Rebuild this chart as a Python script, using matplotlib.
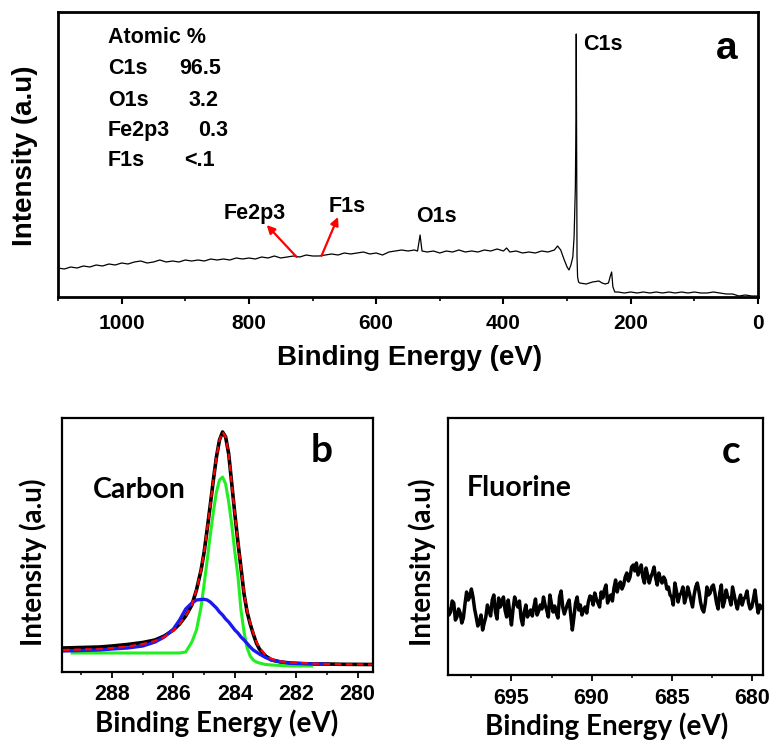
import matplotlib
matplotlib.use("Agg")
import matplotlib.pyplot as plt
from matplotlib.ticker import MultipleLocator

# ---- panel a: survey spectrum (binding energy in eV, intensity in a.u.)
survey_ev = [1100, 1090, 1080, 1070, 1060, 1050, 1040, 1030, 1020, 1010,
             1000, 990, 980, 970, 960, 950, 940, 930, 920, 910,
             900, 890, 880, 870, 860, 850, 840, 830, 820, 810,
             800, 790, 780, 770, 760, 750, 740, 730, 720, 710,
             700, 690, 680, 670, 660, 650, 640, 630, 620, 610,
             600, 590, 580, 570, 560, 550, 540, 535, 531, 528,
             520, 510, 500, 490, 480, 470, 460, 450, 440, 430,
             420, 410, 400, 395, 390, 380, 370, 360, 350, 340,
             330, 320, 315, 310, 305, 300, 297, 294, 291, 289,
             287, 286, 285.6, 285, 284.4, 283.5, 282, 280, 270, 260,
             250, 245, 240, 235, 232, 230, 228, 225, 220, 210,
             200, 190, 180, 170, 160, 150, 140, 130, 120, 110,
             100, 90, 80, 70, 60, 50, 40, 30, 20, 10, 0]
survey_int = [29, 28, 30, 29, 31, 30, 32, 31, 33, 32,
              34, 33, 35, 36, 34, 35, 37, 35, 36, 35,
              37, 36, 37, 36, 38, 37, 38, 37, 39, 38,
              39, 38, 40, 39, 41, 39, 40, 41, 40, 42,
              41, 41, 42, 43, 42, 44, 43, 44, 45, 43,
              44, 42, 45, 46, 47, 46, 47, 46, 62, 46,
              45, 46, 44, 46, 45, 47, 45, 46, 45, 47,
              46, 48, 46, 49, 45, 46, 44, 45, 44, 46,
              45, 47, 51, 47, 38, 30, 27, 32, 40, 60,
              110, 180, 263, 150, 40, 20, 15, 14, 13, 15,
              16, 14, 13, 14, 21, 25, 10, 5, 5, 4,
              5, 4, 5, 4, 5, 4, 5, 4, 5, 4,
              5, 4, 4, 5, 4, 3, 3, 1, 2, 1, 1]

atomic_names = ["C1s", "O1s", "Fe2p3", "F1s"]
atomic_values = ["96.5", "3.2", "0.3", "<.1"]

# ---- panel b: C1s high-resolution spectrum and its fit
c_ev = [289.6, 289.0, 288.4, 288.0, 287.5, 287.0, 286.6, 286.3, 286.0, 285.8,
        285.6, 285.4, 285.25, 285.1, 285.0, 284.9, 284.8, 284.7, 284.6, 284.5,
        284.4, 284.3, 284.2, 284.1, 284.0, 283.9, 283.8, 283.7, 283.6, 283.5,
        283.4, 283.3, 283.2, 283.0, 282.8, 282.5, 282.2, 281.5, 281.0, 280.5, 279.5]
c_data = [24, 24.5, 25, 26, 27.5, 29.5, 32, 36, 42, 48,
          56, 67, 82, 102, 120, 143, 167, 192, 215, 232,
          240, 235, 218, 188, 158, 130, 104, 78, 60, 48,
          38, 29, 23, 16, 12, 10, 9, 8, 8, 7.7, 7.5]
c_fit = [22, 22.5, 23, 24, 25.5, 28, 31, 35, 41.5, 48,
         56, 67, 82, 102, 120, 143, 167, 192, 215, 232,
         240, 235, 218, 188, 158, 130, 104, 79, 61, 49,
         39, 30, 24, 17, 13, 10.5, 9.5, 8.5, 8, 7.7, 7.5]
c_peak1_ev = [289.3, 288.4, 288.0, 287.5, 287.0, 286.6, 286.3, 286.0, 285.8,
              285.6, 285.4, 285.25, 285.1, 285.0, 284.9, 284.8, 284.7, 284.6, 284.5,
              284.4, 284.3, 284.2, 284.1, 284.0, 283.9, 283.8, 283.7, 283.6, 283.5,
              283.4, 283.3, 283.2, 283.0, 282.8, 282.5, 282.2, 281.5]
c_peak1 = [19, 19, 19, 19, 19, 19, 19, 19, 19,
           20, 30, 42, 65, 88, 112, 137, 160, 180, 192,
           195, 188, 170, 147, 120, 96, 62, 40, 24, 16,
           12, 10, 9, 7.5, 7, 6.5, 6, 6]
c_peak2_ev = [289.6, 289.0, 288.4, 288.0, 287.5, 287.0, 286.6, 286.3, 286.0, 285.8,
              285.6, 285.4, 285.25, 285.1, 285.0, 284.9, 284.8, 284.7, 284.6, 284.5,
              284.4, 284.3, 284.2, 284.1, 284.0, 283.9, 283.8, 283.7, 283.6, 283.5,
              283.4, 283.3, 283.2, 283.0, 282.8, 282.5, 282.2, 281.5, 281.0]
c_peak2 = [21, 21.5, 22, 23, 24, 26, 30, 35, 43, 52,
           63, 69, 72, 72.5, 72.7, 72, 70, 67, 64, 60,
           57, 53, 50, 46, 42, 39, 35, 32, 28.5, 25,
           22, 20, 18, 14.5, 12, 10, 8.7, 8, 7.7]

# ---- panel c: F1s high-resolution spectrum (0.1 eV steps)
f_ev = [699.0, 698.9, 698.8, 698.7, 698.6, 698.5, 698.4, 698.3, 698.2, 698.1,
        698.0, 697.9, 697.8, 697.7, 697.6, 697.5, 697.4, 697.3, 697.2, 697.1,
        697.0, 696.9, 696.8, 696.7, 696.6, 696.5, 696.4, 696.3, 696.2, 696.1,
        696.0, 695.9, 695.8, 695.7, 695.6, 695.5, 695.4, 695.3, 695.2, 695.1,
        695.0, 694.9, 694.8, 694.7, 694.6, 694.5, 694.4, 694.3, 694.2, 694.1,
        694.0, 693.9, 693.8, 693.7, 693.6, 693.5, 693.4, 693.3, 693.2, 693.1,
        693.0, 692.9, 692.8, 692.7, 692.6, 692.5, 692.4, 692.3, 692.2, 692.1,
        692.0, 691.9, 691.8, 691.7, 691.6, 691.5, 691.4, 691.3, 691.2, 691.1,
        691.0, 690.9, 690.8, 690.7, 690.6, 690.5, 690.4, 690.3, 690.2, 690.1,
        690.0, 689.9, 689.8, 689.7, 689.6, 689.5, 689.4, 689.3, 689.2, 689.1,
        689.0, 688.9, 688.8, 688.7, 688.6, 688.5, 688.4, 688.3, 688.2, 688.1,
        688.0, 687.9, 687.8, 687.7, 687.6, 687.5, 687.4, 687.3, 687.2, 687.1,
        687.0, 686.9, 686.8, 686.7, 686.6, 686.5, 686.4, 686.3, 686.2, 686.1,
        686.0, 685.9, 685.8, 685.7, 685.6, 685.5, 685.4, 685.3, 685.2, 685.1,
        685.0, 684.9, 684.8, 684.7, 684.6, 684.5, 684.4, 684.3, 684.2, 684.1,
        684.0, 683.9, 683.8, 683.7, 683.6, 683.5, 683.4, 683.3, 683.2, 683.1,
        683.0, 682.9, 682.8, 682.7, 682.6, 682.5, 682.4, 682.3, 682.2, 682.1,
        682.0, 681.9, 681.8, 681.7, 681.6, 681.5, 681.4, 681.3, 681.2, 681.1,
        681.0, 680.9, 680.8, 680.7, 680.6, 680.5, 680.4, 680.3, 680.2, 680.1,
        680.0, 679.9, 679.8, 679.7, 679.6, 679.5, 679.4]
f_int = [68, 60, 63, 74, 72, 55, 58, 66, 62, 52,
         57, 71, 83, 75, 78, 86, 78, 66, 58, 49,
         53, 60, 45, 52, 58, 70, 64, 59, 75, 80,
         63, 56, 77, 68, 72, 78, 65, 58, 75, 62,
         50, 66, 78, 72, 68, 74, 57, 50, 63, 70,
         58, 62, 65, 59, 68, 76, 60, 64, 70, 66,
         78, 70, 65, 58, 80, 71, 63, 69, 62, 57,
         78, 84, 68, 61, 66, 71, 75, 60, 45, 58,
         72, 78, 65, 70, 60, 65, 68, 62, 73, 79,
         78, 70, 82, 76, 72, 68, 83, 77, 85, 90,
         72, 78, 80, 74, 87, 95, 83, 90, 93, 86,
         90, 98, 102, 94, 98, 108, 110, 104, 112, 100,
         105, 110, 98, 92, 107, 100, 92, 98, 102, 108,
         97, 90, 102, 96, 92, 98, 95, 86, 88, 80,
         78, 70, 92, 84, 73, 80, 82, 88, 72, 78,
         88, 82, 75, 68, 80, 88, 92, 84, 73, 66,
         63, 72, 88, 80, 82, 88, 90, 82, 72, 66,
         82, 90, 68, 74, 85, 78, 77, 70, 88, 80,
         72, 66, 75, 80, 70, 76, 78, 84, 72, 66,
         68, 76, 85, 72, 62, 70, 67]

BOLD = "bold"
ARIAL = ["Liberation Sans", "DejaVu Sans"]
CAL = ["Lato", "DejaVu Sans"]

fig = plt.figure(figsize=(7.7, 7.44), dpi=100)

# ------------------------------------------------------------------ panel a
ax_a = fig.add_axes([58 / 770, 1 - 297 / 744, 700 / 770, 285 / 744])
ax_a.plot(survey_ev, survey_int, color="black", lw=0.9)
ax_a.set_xlim(1100, 0)
ax_a.set_ylim(0, 285)
ax_a.set_yticks([])
ax_a.xaxis.set_major_locator(MultipleLocator(200))
ax_a.xaxis.set_minor_locator(MultipleLocator(100))
ax_a.tick_params(axis="x", which="major", direction="out", length=5, width=1.5, pad=7)
ax_a.tick_params(axis="x", which="minor", direction="out", length=3, width=1.2)
for lab in ax_a.get_xticklabels():
    lab.set_fontfamily(ARIAL)
    lab.set_fontweight(BOLD)
    lab.set_fontsize(15)
for s in ax_a.spines.values():
    s.set_linewidth(2)

ax_a.text(0.0714, 0.91, "Atomic %", transform=ax_a.transAxes, va="center",
          family=ARIAL, weight=BOLD, fontsize=15.5)
rows_y = [0.80, 0.69, 0.585, 0.48]
vals_x = [0.173, 0.186, 0.200, 0.180]
for name, val, yy, xx in zip(atomic_names, atomic_values, rows_y, vals_x):
    ax_a.text(0.0714, yy, name, transform=ax_a.transAxes, va="center",
              family=ARIAL, weight=BOLD, fontsize=15.5)
    ax_a.text(xx, yy, val, transform=ax_a.transAxes, va="center",
              family=ARIAL, weight=BOLD, fontsize=15.5)

ax_a.text(275, 252, "C1s", va="center", ha="left", family=ARIAL, weight=BOLD, fontsize=15.5)
ax_a.text(791, 84, "Fe2p3", va="center", ha="center", family=ARIAL, weight=BOLD, fontsize=15.5)
ax_a.text(645, 90, "F1s", va="center", ha="center", family=ARIAL, weight=BOLD, fontsize=15.5)
ax_a.text(506, 80, "O1s", va="center", ha="center", family=ARIAL, weight=BOLD, fontsize=15.5)
ax_a.text(0.955, 0.87, "a", transform=ax_a.transAxes, va="center", ha="center",
          family=ARIAL, weight=BOLD, fontsize=28)

arrow = dict(arrowstyle="-|>", color="red", lw=1.6, mutation_scale=12, shrinkA=0, shrinkB=0)
ax_a.annotate("", xy=(772, 72), xytext=(725, 40), arrowprops=arrow)
ax_a.annotate("", xy=(660, 80), xytext=(686, 41), arrowprops=arrow)

fig.text(25 / 770, 1 - 156 / 744, "Intensity (a.u)", rotation=90, ha="center", va="center",
         family=ARIAL, weight=BOLD, fontsize=20)
fig.text(410 / 770, 1 - 358 / 744, "Binding Energy (eV)", ha="center", va="center",
         family=ARIAL, weight=BOLD, fontsize=20)

# ------------------------------------------------------------------ panel b
ax_b = fig.add_axes([62 / 770, 1 - 672 / 744, 311 / 770, 254 / 744])
ax_b.plot(c_ev, c_data, color="black", lw=2.6)
ax_b.plot(c_peak1_ev, c_peak1, color="#22ee22", lw=2.2)
ax_b.plot(c_peak2_ev, c_peak2, color="#1a1aee", lw=2.4)
ax_b.plot(c_ev, c_fit, color="red", lw=1.6, ls=(0, (3, 2)))
ax_b.set_xlim(289.63, 279.5)
ax_b.set_ylim(0, 254)

# ------------------------------------------------------------------ panel c
ax_c = fig.add_axes([448 / 770, 1 - 675 / 744, 315 / 770, 257 / 744])
ax_c.plot(f_ev, f_int, color="black", lw=2.5)
ax_c.set_xlim(698.96, 679.3)
ax_c.set_ylim(0, 257)

for ax, major in ((ax_b, 2), (ax_c, 5)):
    ax.set_yticks([])
    ax.xaxis.set_major_locator(MultipleLocator(major))
    ax.xaxis.set_minor_locator(MultipleLocator(major / 2))
    ax.tick_params(axis="x", which="major", direction="out", length=4, width=1.3, pad=5)
    ax.tick_params(axis="x", which="minor", direction="out", length=2.5, width=1.1)
    for lab in ax.get_xticklabels():
        lab.set_fontfamily(ARIAL)
        lab.set_fontweight(BOLD)
        lab.set_fontsize(15.5)
    for s in ax.spines.values():
        s.set_linewidth(1.6)

ax_b.text(0.10, 0.717, "Carbon", transform=ax_b.transAxes, va="center", ha="left",
          family=CAL, weight=BOLD, fontsize=20.5)
ax_b.text(0.836, 0.874, "b", transform=ax_b.transAxes, va="center", ha="center",
          family=CAL, weight=BOLD, fontsize=28)
ax_c.text(0.06, 0.728, "Fluorine", transform=ax_c.transAxes, va="center", ha="left",
          family=CAL, weight=BOLD, fontsize=20.5)
ax_c.text(0.90, 0.868, "c", transform=ax_c.transAxes, va="center", ha="center",
          family=CAL, weight=BOLD, fontsize=28)

fig.text(33 / 770, 1 - 562 / 744, "Intensity (a.u)", rotation=90, ha="center", va="center",
         family=CAL, weight=BOLD, fontsize=20)
fig.text(422 / 770, 1 - 562 / 744, "Intensity (a.u)", rotation=90, ha="center", va="center",
         family=CAL, weight=BOLD, fontsize=20)
fig.text(217 / 770, 1 - 723 / 744, "Binding Energy (eV)", ha="center", va="center",
         family=CAL, weight=BOLD, fontsize=20)
fig.text(607 / 770, 1 - 726 / 744, "Binding Energy (eV)", ha="center", va="center",
         family=CAL, weight=BOLD, fontsize=20)

fig.savefig("out.png", dpi=100)
